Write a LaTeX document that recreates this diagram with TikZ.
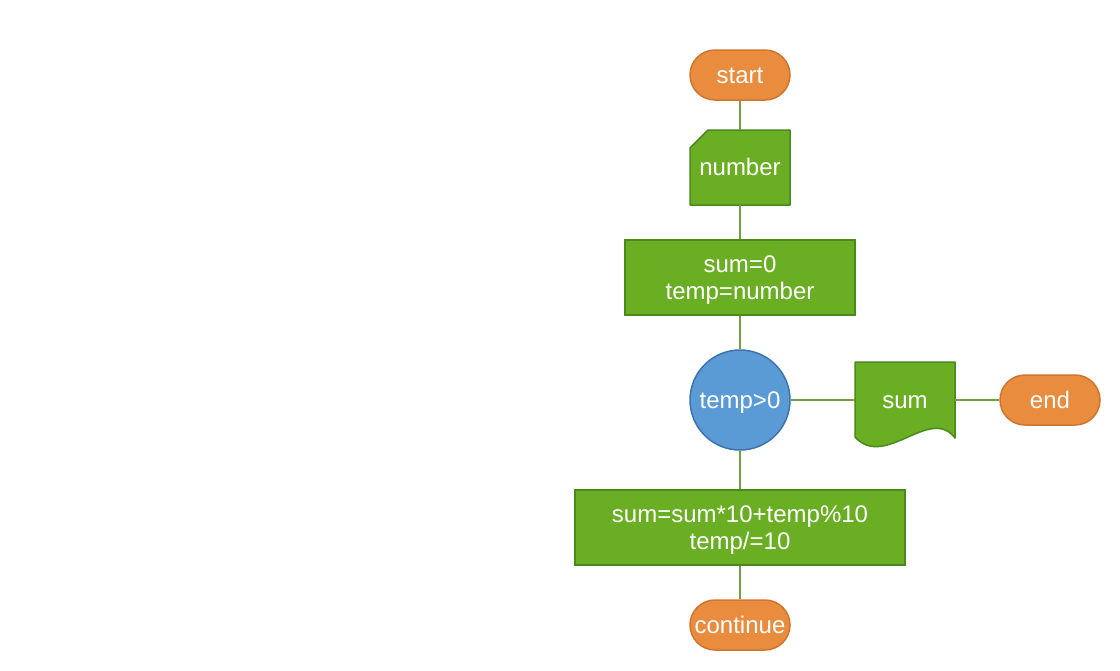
\documentclass[tikz,border=0pt]{standalone}
\usepackage{fontspec}
\setmainfont{Liberation Sans}
\newcommand\dstrut{\rule[-0.212em]{0pt}{1.117em}}
\definecolor{orfill}{HTML}{EA8C3E}
\definecolor{ordraw}{HTML}{CF7530}
\definecolor{grfill}{HTML}{6AAF23}
\definecolor{grdraw}{HTML}{4B8A1A}
\definecolor{blfill}{HTML}{5B9BD5}
\definecolor{bldraw}{HTML}{3B74B0}
\definecolor{lncol}{HTML}{72A045}
\begin{document}
\begin{tikzpicture}[x=1pt,y=-1pt,
  txt/.style={text=white,font=\fontsize{24}{27}\selectfont,align=center,inner sep=0pt},
  term/.style={txt,draw=ordraw,fill=orfill,line width=1.5pt,rounded corners=25pt,minimum width=100pt,minimum height=50pt},
  procbox/.style={txt,draw=grdraw,fill=grfill,line width=1.5pt,minimum height=75pt},
  decis/.style={txt,circle,draw=bldraw,fill=blfill,line width=1.5pt,minimum size=100pt},
  ghost/.style={txt,minimum width=100pt},
  shp/.style={draw=grdraw,fill=grfill,line width=1.5pt,line join=round},
  conn/.style={draw=lncol,line width=2.2pt}]
\useasboundingbox (0,0) rectangle (1120,670);
\fill[white] (0,0) rectangle (1120,670);
% custom shapes
\path[shp] (708,130) -- (790,130) -- (790,205) -- (690,205) -- (690,148) -- cycle;
\path[shp] (855,362) -- (955,362) -- (955,438) .. controls (930,405) and (885,470) .. (855,437) -- cycle;
% nodes
\node[term] (start) at (740,75) {\dstrut start};
\node[ghost,minimum height=75pt] (number) at (740,167.5) {\dstrut number};
\node[procbox,minimum width=230pt] (init) at (740,277.5) {\dstrut sum=0\\\dstrut temp=number};
\node[decis] (cond) at (740,400) {\dstrut temp>0};
\node[ghost,minimum height=76pt] (out) at (905,400) {\dstrut sum};
\node[term] (end) at (1050,400) {\dstrut end};
\node[procbox,minimum width=330pt] (body) at (740,527.5) {\dstrut sum=sum*10+temp\%10\\\dstrut temp/=10};
\node[term] (cont) at (740,625) {\dstrut continue};
% connectors
\draw[conn] (start) -- (number);
\draw[conn] (number) -- (init);
\draw[conn] (init) -- (cond);
\draw[conn] (cond) -- (body);
\draw[conn] (body) -- (cont);
\draw[conn] (cond) -- (out);
\draw[conn] (out) -- (end);
\end{tikzpicture}
\end{document}
